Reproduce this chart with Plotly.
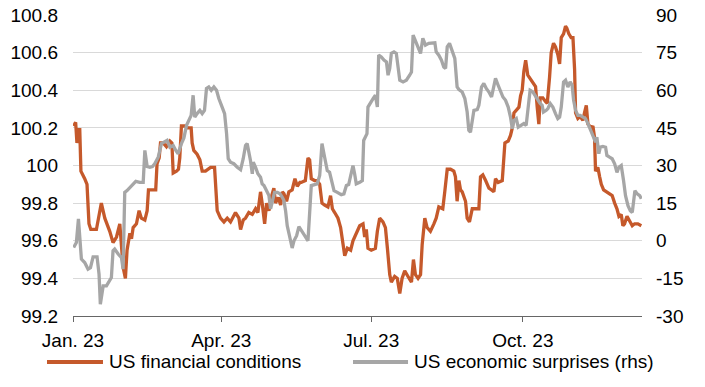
import pandas as pd
import plotly.graph_objects as go

# ---- data (x = day of year 2023, counted from 1 Jan) ----
fin_days = [0.4, 1.6, 2.4, 3.5, 4.1, 4.8, 7.1, 8.5, 9.7, 10.8, 14.2, 17.2, 19.3, 22.3, 24.3, 26.4, 28.4, 29.4, 30.4, 31.8,
            32.8, 34.5, 35.5, 36.5, 38.5, 40.1, 41.5, 43.6, 45.0, 45.8, 48.6, 50.2, 51.0, 52.3, 53.1, 54.7, 56.7, 58.8, 60.0, 60.8,
            62.8, 64.0, 64.8, 65.8, 67.9, 69.7, 71.7, 72.3, 73.3, 75.3, 77.0, 78.4, 80.4, 82.4, 83.5, 85.9, 87.5, 89.5, 91.6, 93.6,
            95.6, 98.6, 100.7, 101.7, 103.3, 104.7, 106.7, 108.8, 110.8, 112.2, 113.8, 114.8, 116.3, 117.5, 118.9, 120.3, 121.9, 122.9, 124.6, 126.0,
            127.0, 128.0, 129.6, 131.0, 133.0, 134.7, 136.1, 137.7, 138.5, 141.0, 142.6, 143.6, 144.6, 146.6, 148.2, 149.7, 151.1, 152.7, 154.7, 156.3,
            157.4, 158.8, 160.8, 162.4, 163.8, 164.9, 166.5, 168.5, 169.9, 171.9, 174.0, 176.0, 177.0, 178.0, 179.0, 181.0, 183.5, 184.7, 186.1, 188.1,
            189.6, 190.8, 192.2, 193.2, 195.2, 196.8, 198.3, 199.7, 201.3, 203.3, 205.4, 206.6, 207.8, 209.4, 210.9, 211.9, 213.5, 214.9, 216.9, 219.0,
            220.4, 222.0, 224.4, 225.6, 227.1, 229.1, 231.1, 232.1, 233.1, 234.2, 235.2, 236.2, 237.2, 238.2, 239.2, 240.6, 242.3, 244.3, 246.3, 247.3,
            248.7, 250.4, 252.4, 254.0, 255.4, 256.4, 258.0, 260.5, 262.1, 264.1, 265.5, 266.6, 267.6, 269.6, 270.6, 271.6, 272.6, 273.6, 274.7, 276.0,
            277.4, 279.1, 280.7, 281.7, 282.7, 283.5, 285.1, 286.7, 287.8, 289.2, 290.2, 291.6, 292.8, 294.2, 295.3, 296.3, 297.7, 298.9, 299.7, 300.9,
            302.3, 303.4, 304.4, 305.0, 306.4, 307.8, 309.4, 310.4, 311.5, 312.5, 313.5, 314.5, 315.5, 316.5, 317.1, 318.5, 319.6, 320.6, 322.0, 323.6,
            325.6, 327.2, 328.7, 330.1, 331.3, 332.7, 333.7, 334.7, 336.2, 337.8, 339.4, 340.8, 342.8, 344.9]
fin_values = [100.21, 100.23, 100.12, 100.19, 100.19, 99.97, 99.93, 99.90, 99.69, 99.66, 99.66, 99.80, 99.72, 99.65, 99.59, 99.62, 99.69, 99.58, 99.46, 99.40,
              99.55, 99.64, 99.61, 99.67, 99.69, 99.76, 99.72, 99.71, 99.76, 99.87, 99.87, 99.87, 100.01, 100.04, 100.12, 100.12, 100.10, 100.13, 100.12, 99.96,
              99.97, 99.98, 100.04, 100.21, 100.21, 100.20, 100.20, 100.12, 100.08, 100.06, 100.03, 99.97, 99.97, 99.98, 99.99, 99.99, 99.76, 99.72, 99.70, 99.72,
              99.70, 99.75, 99.72, 99.66, 99.71, 99.72, 99.75, 99.74, 99.77, 99.75, 99.86, 99.80, 99.69, 99.80, 99.76, 99.83, 99.88, 99.80, 99.83, 99.79,
              99.86, 99.85, 99.81, 99.86, 99.87, 99.93, 99.89, 99.91, 99.91, 99.92, 100.04, 100.03, 99.93, 99.92, 99.92, 99.90, 99.80, 99.79, 99.78, 99.84,
              99.77, 99.75, 99.72, 99.67, 99.58, 99.52, 99.56, 99.55, 99.60, 99.64, 99.68, 99.69, 99.62, 99.66, 99.56, 99.55, 99.56, 99.65, 99.72, 99.70,
              99.67, 99.56, 99.42, 99.38, 99.41, 99.40, 99.32, 99.40, 99.44, 99.41, 99.38, 99.50, 99.42, 99.40, 99.42, 99.58, 99.72, 99.67, 99.65, 99.69,
              99.72, 99.78, 99.77, 99.86, 99.98, 99.98, 99.97, 99.94, 99.81, 99.92, 99.87, 99.86, 99.84, 99.81, 99.72, 99.70, 99.77, 99.77, 99.77, 99.94,
              99.95, 99.92, 99.88, 99.87, 99.86, 99.93, 99.91, 99.92, 100.12, 100.13, 100.16, 100.20, 100.28, 100.30, 100.31, 100.37, 100.40, 100.50, 100.56, 100.48,
              100.46, 100.44, 100.42, 100.31, 100.22, 100.36, 100.36, 100.34, 100.33, 100.47, 100.60, 100.65, 100.63, 100.59, 100.54, 100.68, 100.70, 100.74, 100.73, 100.70,
              100.68, 100.68, 100.51, 100.28, 100.25, 100.26, 100.24, 100.28, 100.32, 100.22, 100.21, 100.20, 100.21, 100.15, 99.97, 99.99, 99.94, 99.90, 99.87, 99.86,
              99.85, 99.84, 99.80, 99.77, 99.73, 99.74, 99.68, 99.69, 99.73, 99.70, 99.68, 99.69, 99.69, 99.68]

eco_days = [0.4, 2.05, 3.3, 4.1, 5.1, 7.1, 9.1, 10.6, 12.2, 14.6, 15.8, 16.6, 18.3, 20.3, 22.3, 23.3, 24.3, 25.3, 27.4, 29.4,
            30.4, 31.4, 32.8, 34.5, 36.5, 38.1, 40.5, 42.6, 43.6, 45.0, 46.6, 48.2, 49.6, 51.7, 53.7, 55.7, 57.1, 58.8, 60.8, 62.4,
            63.8, 65.8, 67.3, 68.9, 70.3, 71.7, 72.9, 73.9, 75.3, 77.0, 78.4, 79.8, 81.0, 82.4, 83.9, 85.5, 87.1, 88.5, 90.5, 92.0,
            93.2, 94.2, 95.6, 97.6, 99.7, 101.7, 103.3, 104.7, 105.7, 106.7, 107.7, 108.8, 109.4, 110.8, 112.2, 113.8, 114.8, 115.9, 117.5, 118.9,
            119.9, 120.9, 122.3, 124.0, 125.6, 127.0, 128.0, 129.0, 130.0, 131.6, 133.0, 134.1, 135.7, 137.1, 138.5, 140.6, 142.6, 143.6, 144.6, 146.6,
            148.2, 149.7, 151.1, 152.7, 154.3, 155.7, 156.8, 158.4, 160.4, 162.8, 164.4, 165.9, 167.3, 168.9, 169.9, 170.9, 171.9, 174.0, 175.6, 176.4,
            177.4, 178.4, 179.0, 180.6, 182.1, 183.5, 184.7, 185.5, 187.1, 188.7, 190.2, 191.2, 192.2, 193.2, 194.8, 196.2, 197.3, 198.3, 200.3, 202.3,
            204.3, 205.4, 206.4, 208.2, 209.4, 210.9, 212.3, 213.9, 215.9, 218.4, 219.6, 220.4, 222.0, 223.6, 225.0, 226.1, 227.1, 228.5, 230.1, 231.7,
            233.1, 234.2, 236.2, 237.8, 239.2, 240.2, 241.2, 242.3, 243.3, 245.3, 246.3, 247.9, 249.3, 250.8, 252.4, 254.0, 255.4, 256.4, 258.0, 259.5,
            260.9, 262.5, 264.1, 265.5, 266.6, 267.6, 269.0, 270.2, 271.6, 273.6, 275.0, 276.0, 277.4, 279.1, 280.7, 282.1, 283.5, 284.7, 285.5, 287.2,
            288.2, 289.6, 291.2, 292.8, 294.2, 295.3, 296.3, 297.7, 298.9, 300.3, 301.7, 302.9, 303.8, 305.0, 306.4, 307.8, 309.4, 311.0, 312.5, 314.5,
            315.9, 317.1, 317.9, 319.1, 320.0, 321.6, 323.2, 324.0, 325.6, 327.2, 328.7, 330.1, 331.3, 332.7, 334.1, 335.3, 336.8, 338.2, 339.4, 340.2,
            341.0, 342.4, 343.9, 344.9]
eco_values = [-2.7, -0.7, 8.7, 0.0, -7.3, -8.7, -11.3, -10.7, -6.4, -6.4, -13.3, -25.3, -18.0, -18.0, -16.0, -14.7, -4.0, -3.3, -5.3, -6.7,
              -11.3, 19.3, 20.0, 21.3, 22.9, 23.7, 23.3, 23.3, 36.0, 29.6, 29.3, 29.6, 30.7, 33.3, 38.7, 39.3, 40.0, 37.3, 38.0, 36.0,
              34.7, 38.7, 41.0, 46.0, 48.0, 50.0, 58.0, 49.3, 50.7, 52.0, 50.7, 52.0, 60.7, 61.3, 60.0, 61.3, 60.0, 56.7, 53.3, 50.7,
              42.7, 32.7, 31.3, 30.7, 29.3, 28.3, 32.7, 38.0, 38.7, 36.0, 32.0, 26.7, 31.3, 29.3, 26.7, 25.3, 22.7, 22.0, 20.0, 18.0,
              12.7, 15.3, 19.3, 19.3, 18.7, 17.3, 16.0, 12.0, 6.0, 1.3, -2.9, 0.0, 2.0, 5.6, 4.0, 2.0, 0.0, 10.7, 22.0, 22.4,
              22.7, 26.0, 38.7, 33.3, 28.0, 27.3, 24.0, 20.0, 19.3, 18.4, 18.7, 22.0, 22.4, 28.0, 30.0, 26.7, 22.7, 23.3, 24.0, 40.0,
              41.3, 42.7, 53.3, 55.3, 56.7, 58.0, 53.3, 74.0, 73.3, 72.0, 71.3, 66.0, 68.7, 74.7, 75.3, 74.7, 68.0, 64.0, 63.3, 64.0,
              66.0, 67.3, 82.0, 78.7, 76.7, 74.7, 80.7, 78.0, 78.7, 78.7, 78.9, 75.3, 74.0, 72.0, 69.3, 68.7, 77.3, 78.7, 76.0, 72.7,
              61.3, 60.3, 59.3, 56.7, 51.3, 44.0, 43.3, 48.0, 52.0, 52.3, 54.0, 61.3, 62.7, 60.7, 59.3, 57.3, 62.7, 64.7, 62.0, 59.3,
              57.3, 56.0, 53.3, 49.3, 44.7, 48.0, 48.7, 45.3, 46.0, 46.7, 46.0, 52.0, 60.0, 59.3, 57.6, 56.7, 54.7, 54.0, 51.3, 52.0,
              52.7, 54.7, 53.3, 50.7, 48.7, 49.3, 53.3, 63.3, 64.0, 61.3, 63.3, 62.0, 56.0, 52.0, 50.0, 50.0, 49.3, 48.7, 46.7, 43.3,
              40.7, 39.3, 41.3, 34.7, 37.3, 37.6, 37.3, 34.0, 33.3, 32.7, 30.7, 27.3, 29.3, 30.0, 24.0, 18.0, 14.0, 12.0, 11.3, 17.3,
              20.0, 18.7, 18.0, 16.7]

x_tick_dates = ["2023-01-01", "2023-04-01", "2023-07-01", "2023-10-01"]
x_tick_labels = ["Jan. 23", "Apr. 23", "Jul. 23", "Oct. 23"]
left_ticks = [99.2, 99.4, 99.6, 99.8, 100.0, 100.2, 100.4, 100.6, 100.8]
left_labels = ["99.2", "99.4", "99.6", "99.8", "100", "100.2", "100.4", "100.6", "100.8"]
right_ticks = [-30, -15, 0, 15, 30, 45, 60, 75, 90]
right_labels = ["-30", "-15", "0", "15", "30", "45", "60", "75", "90"]

name_fin = "US financial conditions"
name_eco = "US economic surprises (rhs)"

ORANGE = "#C5592B"
GREY = "#A6A6A6"
AXIS = "#666666"
FONT = "Liberation Sans, Arial, sans-serif"
FS = 19

base = pd.Timestamp("2023-01-01")
fin_x = base + pd.to_timedelta(fin_days, unit="D")
eco_x = base + pd.to_timedelta(eco_days, unit="D")

fig = go.Figure()
fig.add_trace(go.Scatter(x=fin_x, y=fin_values, name=name_fin, mode="lines",
                         line=dict(color=ORANGE, width=3.3), yaxis="y", showlegend=False))
fig.add_trace(go.Scatter(x=eco_x, y=eco_values, name=name_eco, mode="lines",
                         line=dict(color=GREY, width=3.3), yaxis="y2", showlegend=False))

fig.update_layout(
    template="none",
    width=705, height=387,
    margin=dict(l=73, r=63, t=15, b=71, autoexpand=False),
    paper_bgcolor="white", plot_bgcolor="white",
    font=dict(family=FONT, size=FS, color="#000000"),
    xaxis=dict(
        type="date", automargin=False,
        range=[base, base + pd.Timedelta(days=345.3)],
        tickvals=x_tick_dates, ticktext=x_tick_labels,
        showgrid=False, zeroline=False,
        showline=True, linecolor=AXIS, linewidth=1,
        ticks="outside", ticklen=5, tickcolor=AXIS, tickwidth=1,
        ticklabelstandoff=2,
    ),
    yaxis=dict(
        automargin=False,
        range=[99.2, 100.8], tickvals=left_ticks, ticktext=left_labels,
        showgrid=True, gridcolor="#D9D9D9", gridwidth=1,
        zeroline=False, showline=False, ticks="",
        ticklabelstandoff=14,
    ),
    yaxis2=dict(
        automargin=False,
        range=[-30, 90], tickvals=right_ticks, ticktext=right_labels,
        overlaying="y", side="right",
        showgrid=False, zeroline=False, showline=False, ticks="",
        ticklabelstandoff=13,
    ),
    showlegend=False,
)

# legend drawn below the plot
leg_y = -0.1528
fig.add_shape(type="line", xref="paper", yref="paper", x0=-0.0457, x1=0.0527, y0=leg_y, y1=leg_y,
              line=dict(color=ORANGE, width=4))
fig.add_shape(type="line", xref="paper", yref="paper", x0=0.4921, x1=0.5888, y0=leg_y, y1=leg_y,
              line=dict(color=GREY, width=4))
fig.add_annotation(xref="paper", yref="paper", x=0.0600, y=leg_y, xanchor="left", yanchor="middle",
                   text=name_fin, showarrow=False, font=dict(family=FONT, size=FS, color="#000000"))
fig.add_annotation(xref="paper", yref="paper", x=0.5960, y=leg_y, xanchor="left", yanchor="middle",
                   text=name_eco, showarrow=False, font=dict(family=FONT, size=FS, color="#000000"))

fig.write_html("out.html", config={"displayModeBar": False},
               post_script="document.body.style.margin='0';")
